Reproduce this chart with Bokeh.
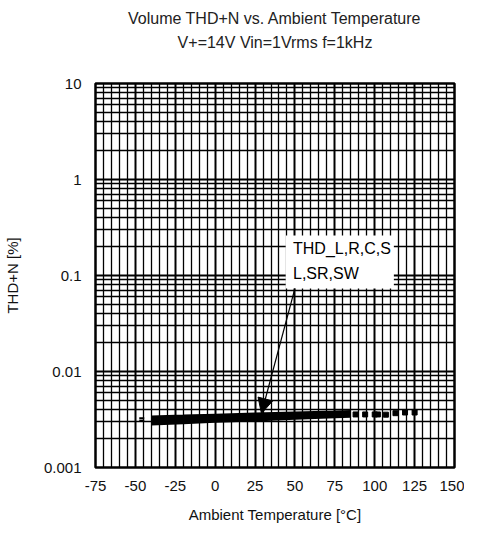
from bokeh.plotting import figure
from bokeh.models import (FixedTicker, BoxAnnotation, Arrow, NormalHead,
                          Range1d, Label, Title, LinearAxis)
from bokeh.embed import file_html
from bokeh.resources import INLINE

# ---- data ----
title_line1 = "Volume THD+N vs. Ambient Temperature"
title_line2 = "V+=14V Vin=1Vrms f=1kHz"
x_label = "Ambient Temperature [°C]"
y_label = "THD+N [%]"

x_ticks = [-75, -50, -25, 0, 25, 50, 75, 100, 125, 150]
x_tick_labels = ["-75", "-50", "-25", "0", "25", "50", "75", "100", "125", "150"]
y_ticks = [0.001, 0.01, 0.1, 1, 10]
y_tick_labels = ["0.001", "0.01", "0.1", "1", "10"]

# measured band (-40 .. 85 degC), several overlapping channels
temp_solid = [-40, -20, 0, 25, 50, 75, 85]
thd_upper = [0.00332, 0.00339, 0.00347, 0.00356, 0.00365, 0.00373, 0.00378]
thd_mid = [0.00309, 0.00316, 0.00325, 0.00336, 0.00347, 0.00357, 0.00362]
thd_lower = [0.00288, 0.00296, 0.00306, 0.00317, 0.00329, 0.00341, 0.00347]

# dotted continuation beyond 85 degC
temp_dots = [88, 94, 100, 102, 107, 113, 119, 125]
thd_dots = [0.00357, 0.00357, 0.00357, 0.00357, 0.00355, 0.00368, 0.00374, 0.00374]

# stray points at the cold end
temp_cold = [-46, -46]
thd_cold = [0.00326, 0.00306]

annot_lines = ["THD_L,R,C,S", "L,SR,SW"]
annot_x = [48.8, 48.8]
annot_y = [0.191, 0.106]

FONT = "Liberation Sans"

p = figure(width=464, height=529, output_backend="svg", toolbar_location=None,
           y_axis_type="log", x_range=Range1d(-75, 150), y_range=Range1d(0.001, 10),
           min_border_left=88, min_border_right=10, min_border_top=83,
           min_border_bottom=62)
p.background_fill_color = "white"
p.border_fill_color = "white"
p.outline_line_color = "black"
p.outline_line_width = 2.5

xa = p.below[0]
ya = p.left[0]

# minor positions derived from ticks
x_minor = [v for v in range(-75, 151, 5) if v % 25 != 0]
y_minor = [m * 10.0 ** d for d in range(-3, 1) for m in range(2, 10)]
xticker = FixedTicker(ticks=x_ticks, minor_ticks=x_minor)
yticker = FixedTicker(ticks=y_ticks, minor_ticks=y_minor)

xa.ticker = xticker
ya.ticker = yticker
xa.major_label_overrides = {t_: l for t_, l in zip(x_ticks, x_tick_labels)}
ya.major_label_overrides = {t_: l for t_, l in zip(y_ticks, y_tick_labels)}

# second title line carried by a tick-less axis above the frame
top_axis = LinearAxis(ticker=FixedTicker(ticks=[]), axis_label=title_line2,
                      axis_label_standoff=33)
p.add_layout(top_axis, "above")
p.add_layout(Title(text=title_line1, align="center", text_font=FONT,
                   text_font_size="16px", text_font_style="normal",
                   text_color="#222222", standoff=7), "above")

for ax in (xa, ya, top_axis):
    ax.axis_line_color = None
    ax.major_tick_line_color = None
    ax.minor_tick_line_color = None
    ax.major_tick_out = 0
    ax.minor_tick_out = 0
    ax.major_label_text_font = FONT
    ax.major_label_text_font_size = "15px"
    ax.major_label_text_color = "#111111"
    ax.axis_label_text_font = FONT
    ax.axis_label_text_font_size = "15px"
    ax.axis_label_text_font_style = "normal"
    ax.axis_label_text_color = "#111111"
top_axis.axis_label_text_font_size = "16px"
top_axis.axis_label_text_color = "#222222"

xa.axis_label = x_label
ya.axis_label = y_label
xa.major_label_standoff = 13
xa.axis_label_standoff = 12
ya.major_label_standoff = 14
ya.axis_label_standoff = 20

for g in (p.xgrid, p.ygrid):
    g.grid_line_color = "black"
    g.grid_line_width = 2
    g.grid_line_alpha = 1
    g.minor_grid_line_color = "black"
    g.minor_grid_line_width = 1.3
p.xgrid.ticker = xticker
p.ygrid.ticker = yticker

# data band
for ys in (thd_upper, thd_mid, thd_lower):
    p.line(temp_solid, ys, line_color="black", line_width=4)
p.scatter(temp_dots, thd_dots, marker="square", size=5, color="black")
p.scatter(temp_cold, thd_cold, marker="dash", size=5, line_width=2, color="black")

# annotation box, text and arrow
box = BoxAnnotation(left=44.2, right=112, bottom=0.0733, top=0.261,
                    fill_color="white", fill_alpha=1, line_color=None)
p.add_layout(box)
for tx, ty, tl in zip(annot_x, annot_y, annot_lines):
    p.add_layout(Label(x=tx, y=ty, text=tl, text_font=FONT, text_font_size="16px",
                       text_baseline="middle", text_align="left", text_color="black"))
p.add_layout(Arrow(end=NormalHead(size=15, fill_color="black", line_color="black"),
                   x_start=50, y_start=0.0733, x_end=29, y_end=0.00365,
                   line_color="black", line_width=1.2))

open("out.html", "w").write(file_html(p, INLINE))
